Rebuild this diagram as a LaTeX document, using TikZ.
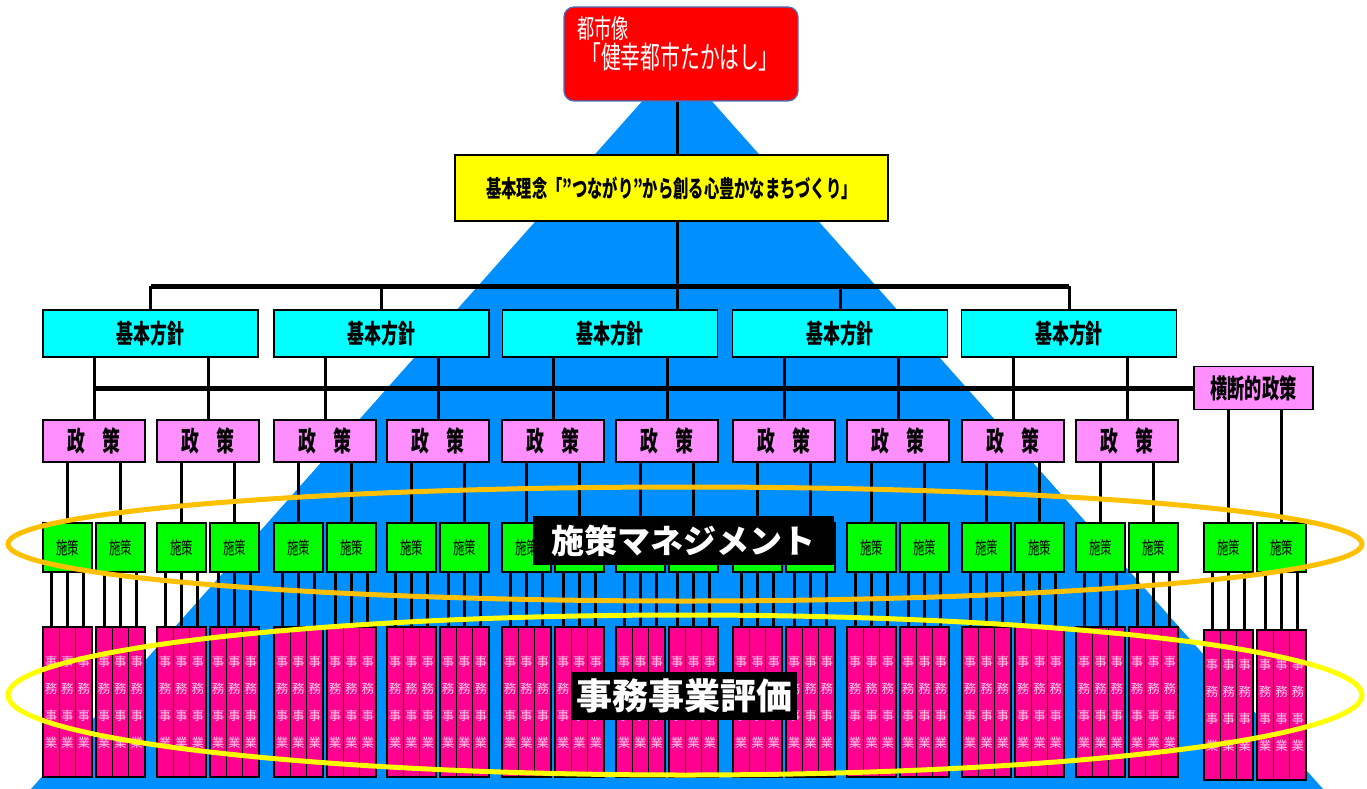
\documentclass[tikz,border=0pt]{standalone}
\usepackage{fontspec}
\newfontfamily\jpfont[FakeStretch=0.65]{Noto Sans CJK JP}
\newfontfamily\jpwide{Noto Sans CJK JP}
\usetikzlibrary{positioning,calc}

\definecolor{pyramidblue}{RGB}{0,143,255}
\definecolor{toshired}{RGB}{255,0,0}
\definecolor{toshiedge}{RGB}{68,114,196}
\definecolor{rinenyellow}{RGB}{255,255,0}
\definecolor{kihoncyan}{RGB}{0,255,255}
\definecolor{seisakuviolet}{RGB}{255,143,255}
\definecolor{shisakugreen}{RGB}{0,255,0}
\definecolor{jimupink}{RGB}{255,0,144}
\definecolor{jimutext}{RGB}{255,205,230}
\definecolor{mgmtorange}{RGB}{255,192,0}

\begin{document}
\begin{tikzpicture}[x=1pt, y=-1pt,
    box/.style={rectangle, draw=black, line width=1.8pt, inner sep=0pt, outer sep=0pt},
    citybox/.style={rectangle, rounded corners=10pt, draw=toshiedge, line width=1.2pt, fill=toshired, minimum width=234pt, minimum height=94pt},
    citytext/.style={text=white, inner sep=0pt, anchor=west},
    rinen/.style={box, fill=rinenyellow, minimum width=433pt, minimum height=66pt, font={\jpfont\bfseries\fontsize{23.5}{23.5}\selectfont}},
    kihon/.style={box, fill=kihoncyan, minimum width=215pt, minimum height=47pt, font={\jpfont\bfseries\fontsize{26}{26}\selectfont}},
    seisaku/.style={box, fill=seisakuviolet, minimum width=102pt, minimum height=42pt, font={\jpfont\bfseries\fontsize{27.5}{27.5}\selectfont}},
    shisaku/.style={box, fill=shisakugreen, minimum width=49pt, minimum height=49pt, font={\jpfont\fontsize{17.5}{17.5}\selectfont}},
    jimu/.style={box, line width=1.3pt, fill=jimupink, text=jimutext, minimum width=16.33pt, minimum height=150pt, align=center, font={\jpwide\fontsize{12.5}{27}\selectfont}},
    tag/.style={fill=black, text=white, inner sep=0pt, font={\jpwide\bfseries\fontsize{33}{33}\selectfont}},
    link/.style={line width=3pt},
    bus/.style={line width=5pt}
]
\useasboundingbox (0,0) rectangle (1367,789);

% Pyramid
\fill[pyramidblue] (677,62) -- (31,789) -- (1323,789) -- cycle;

\coordinate (trunk) at (677,0);
\coordinate (busA) at (0,286);

% City image and basic idea
\node[citybox] (toshi) at (681,54) {};
\node[citytext, font={\jpfont\fontsize{26.5}{26.5}\selectfont}] (toshi1) at (577,28.5) {都市像};
\node[citytext, font={\jpfont\fontsize{30.5}{30.5}\selectfont}] (toshi2) at (581,57) {「健幸都市たかはし」};
\node[rinen] (rinen) at (671.5,188) {基本理念「”つながり”から創る心豊かなまちづくり」};
\draw[link] (toshi.south -| trunk) -- (rinen.north -| trunk);

% Basic policies
\node[kihon] (kihon1) at (150.5,333.5) {基本方針};
\node[kihon] (kihon2) at (381.5,333.5) {基本方針};
\node[kihon] (kihon3) at (610,333.5) {基本方針};
\node[kihon] (kihon4) at (840,333.5) {基本方針};
\node[kihon] (kihon5) at (1069,333.5) {基本方針};
\draw[link] (rinen.south -| trunk) -- (kihon3.north -| trunk);
\draw[bus] (busA -| kihon1.north) -- (busA -| kihon5.north);
\draw[link] (busA -| kihon1.north) -- (kihon1.north);
\draw[link] (busA -| kihon2.north) -- (kihon2.north);
\draw[link] (busA -| kihon4.north) -- (kihon4.north);
\draw[link] (busA -| kihon5.north) -- (kihon5.north);

% Policies
\node[seisaku] (seisaku1) at (94,441) {政　策};
\node[seisaku] (seisaku2) at (208,441) {政　策};
\node[seisaku] (seisaku3) at (325,441) {政　策};
\node[seisaku] (seisaku4) at (438,441) {政　策};
\node[seisaku] (seisaku5) at (553,441) {政　策};
\node[seisaku] (seisaku6) at (667,441) {政　策};
\node[seisaku] (seisaku7) at (784,441) {政　策};
\node[seisaku] (seisaku8) at (898,441) {政　策};
\node[seisaku] (seisaku9) at (1013,441) {政　策};
\node[seisaku] (seisaku10) at (1127,441) {政　策};
\node[seisaku, minimum width=119pt, minimum height=43pt, font={\jpfont\bfseries\fontsize{26.5}{26.5}\selectfont}] (oudan) at (1253.5,388) {横断的政策};
\draw[bus] (seisaku1.north |- oudan.west) -- (oudan.west);
\foreach \k/\a/\b in {1/1/2, 2/3/4, 3/5/6, 4/7/8, 5/9/10} {
  \draw[link] (kihon\k.south -| seisaku\a.north) -- (seisaku\a.north);
  \draw[link] (kihon\k.south -| seisaku\b.north) -- (seisaku\b.north);
}

% Measures and office work / projects
\foreach \p/\x/\src/\y in {1/43/seisaku1/702, 2/157/seisaku2/702, 3/274/seisaku3/702, 4/387/seisaku4/702,
    5/502/seisaku5/702, 6/616/seisaku6/702, 7/733/seisaku7/702, 8/847/seisaku8/702,
    9/962/seisaku9/702, 10/1076/seisaku10/702, 11/1204/oudan/705} {
  \foreach \s/\dx in {a/0, b/53} {
    \node[shisaku] (shisaku\p\s) at (\x+\dx+24.5,547.5) {施策};
    \draw[link] (\src.south -| shisaku\p\s.north) -- (shisaku\p\s.north);
    \foreach \j in {1,2,3} {
      \node[jimu] (jimu\p\s\j) at (\x+\dx+16.33*\j-8.17,\y) {事\\務\\事\\業};
      \draw[link] (shisaku\p\s.south -| jimu\p\s\j.north) -- (jimu\p\s\j.north);
    }
  }
}

% Evaluation rings
\draw[mgmtorange, line width=5pt] (685,544) ellipse [x radius=677pt, y radius=57pt];
\draw[rinenyellow, line width=5pt] (685,695) ellipse [x radius=677pt, y radius=80pt];
\node[tag, minimum width=301pt, minimum height=49pt] (mgmt) at (683.5,540.5) {施策マネジメント};
\node[tag, minimum width=225pt, minimum height=48pt, font={\jpwide\bfseries\fontsize{36}{36}\selectfont}] (hyoka) at (684.5,696) {事務事業評価};

\end{tikzpicture}
\end{document}
